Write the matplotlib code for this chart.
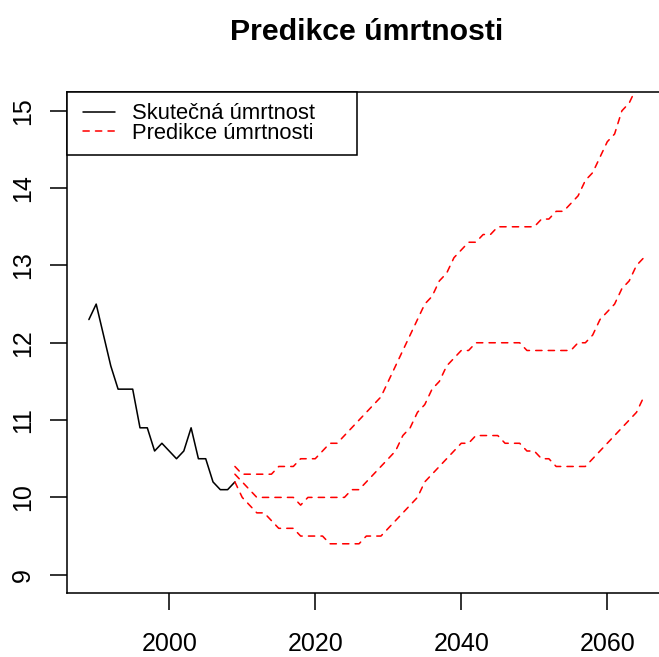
import numpy as np
import matplotlib.pyplot as plt
from matplotlib.lines import Line2D
from matplotlib.legend_handler import HandlerLine2D

plt.rcParams['font.family'] = ['Liberation Sans', 'DejaVu Sans']
# R (cairo) kreslí konce čar zaoblené
plt.rcParams['lines.dash_capstyle'] = 'round'
plt.rcParams['lines.solid_capstyle'] = 'round'

# skutečná úmrtnost
roky = np.arange(1989, 2010)
umrtnost = [12.3, 12.5, 12.1, 11.7, 11.4, 11.4, 11.4, 10.9, 10.9, 10.6,
            10.7, 10.6, 10.5, 10.6, 10.9, 10.5, 10.5, 10.2, 10.1, 10.1, 10.2]

# predikce 2009-2065 (horní mez, střed, dolní mez)
roky_pred = np.arange(2009, 2066)
pred_horni = [10.4, 10.3, 10.3, 10.3, 10.3, 10.3, 10.4, 10.4, 10.4, 10.5,
              10.5, 10.5, 10.6, 10.7, 10.7, 10.8, 10.9, 11.0, 11.1, 11.2,
              11.3, 11.5, 11.7, 11.9, 12.1, 12.3, 12.5, 12.6, 12.8, 12.9,
              13.1, 13.2, 13.3, 13.3, 13.4, 13.4, 13.5, 13.5, 13.5, 13.5,
              13.5, 13.5, 13.6, 13.6, 13.7, 13.7, 13.8, 13.9, 14.1, 14.2,
              14.4, 14.6, 14.7, 15.0, 15.1, 15.3, 15.5]
pred_stred = [10.3, 10.2, 10.1, 10.0, 10.0, 10.0, 10.0, 10.0, 10.0, 9.9,
              10.0, 10.0, 10.0, 10.0, 10.0, 10.0, 10.1, 10.1, 10.2, 10.3,
              10.4, 10.5, 10.6, 10.8, 10.9, 11.1, 11.2, 11.4, 11.5, 11.7,
              11.8, 11.9, 11.9, 12.0, 12.0, 12.0, 12.0, 12.0, 12.0, 12.0,
              11.9, 11.9, 11.9, 11.9, 11.9, 11.9, 11.9, 12.0, 12.0, 12.1,
              12.3, 12.4, 12.5, 12.7, 12.8, 13.0, 13.1]
pred_dolni = [10.2, 10.0, 9.9, 9.8, 9.8, 9.7, 9.6, 9.6, 9.6, 9.5,
              9.5, 9.5, 9.5, 9.4, 9.4, 9.4, 9.4, 9.4, 9.5, 9.5,
              9.5, 9.6, 9.7, 9.8, 9.9, 10.0, 10.2, 10.3, 10.4, 10.5,
              10.6, 10.7, 10.7, 10.8, 10.8, 10.8, 10.8, 10.7, 10.7, 10.7,
              10.6, 10.6, 10.5, 10.5, 10.4, 10.4, 10.4, 10.4, 10.4, 10.5,
              10.6, 10.7, 10.8, 10.9, 11.0, 11.1, 11.3]

x_ticks = [2000, 2020, 2040, 2060]
y_ticks = [9, 10, 11, 12, 13, 14, 15]

fig = plt.figure(figsize=(6.59, 6.57), dpi=100)
# osa přesahuje vpravo mimo obrázek (jako v originálu)
ax = fig.add_axes([0.1012, 0.097, 0.9094, 0.7626])

lw = 1.125
carkovana = (0, (4, 4))
ax.plot(roky, umrtnost, color='black', linewidth=lw, label='Skutečná úmrtnost')
ax.plot(roky_pred, pred_stred, color='red', linewidth=lw, linestyle=carkovana,
        label='Predikce úmrtnosti')
ax.plot(roky_pred, pred_horni, color='red', linewidth=lw, linestyle=carkovana)
ax.plot(roky_pred, pred_dolni, color='red', linewidth=lw, linestyle=carkovana)

# rozsah os jako v R (+4 %)
ax.set_xlim(1985.96, 2068.04)
ax.set_ylim(8.76, 15.24)

ax.set_xticks(x_ticks)
ax.set_yticks(y_ticks)
ax.set_yticklabels([str(v) for v in y_ticks], rotation=90, va='center')
ax.tick_params(axis='both', direction='out', length=12.2, width=lw,
               labelsize=18, colors='black')
ax.tick_params(axis='x', pad=15.5)
ax.tick_params(axis='y', pad=10.5)
for s in ax.spines.values():
    s.set_linewidth(lw)

fig.text(0.5556, 0.939, 'Predikce úmrtnosti', ha='center', va='baseline',
         fontsize=21.8, fontweight='bold')

# legenda
leg = ax.legend(loc='upper left', bbox_to_anchor=(0, 1, 0.4844, 0), mode='expand',
                borderaxespad=0, fontsize=15.8, frameon=True, fancybox=False,
                edgecolor='black', framealpha=1, borderpad=0.5,
                labelspacing=-0.05, handlelength=1.70, handletextpad=0.79,
                handler_map={Line2D: HandlerLine2D(xpad=0.264)})
leg.get_frame().set_linewidth(lw)

plt.savefig('out.png', dpi=100)
